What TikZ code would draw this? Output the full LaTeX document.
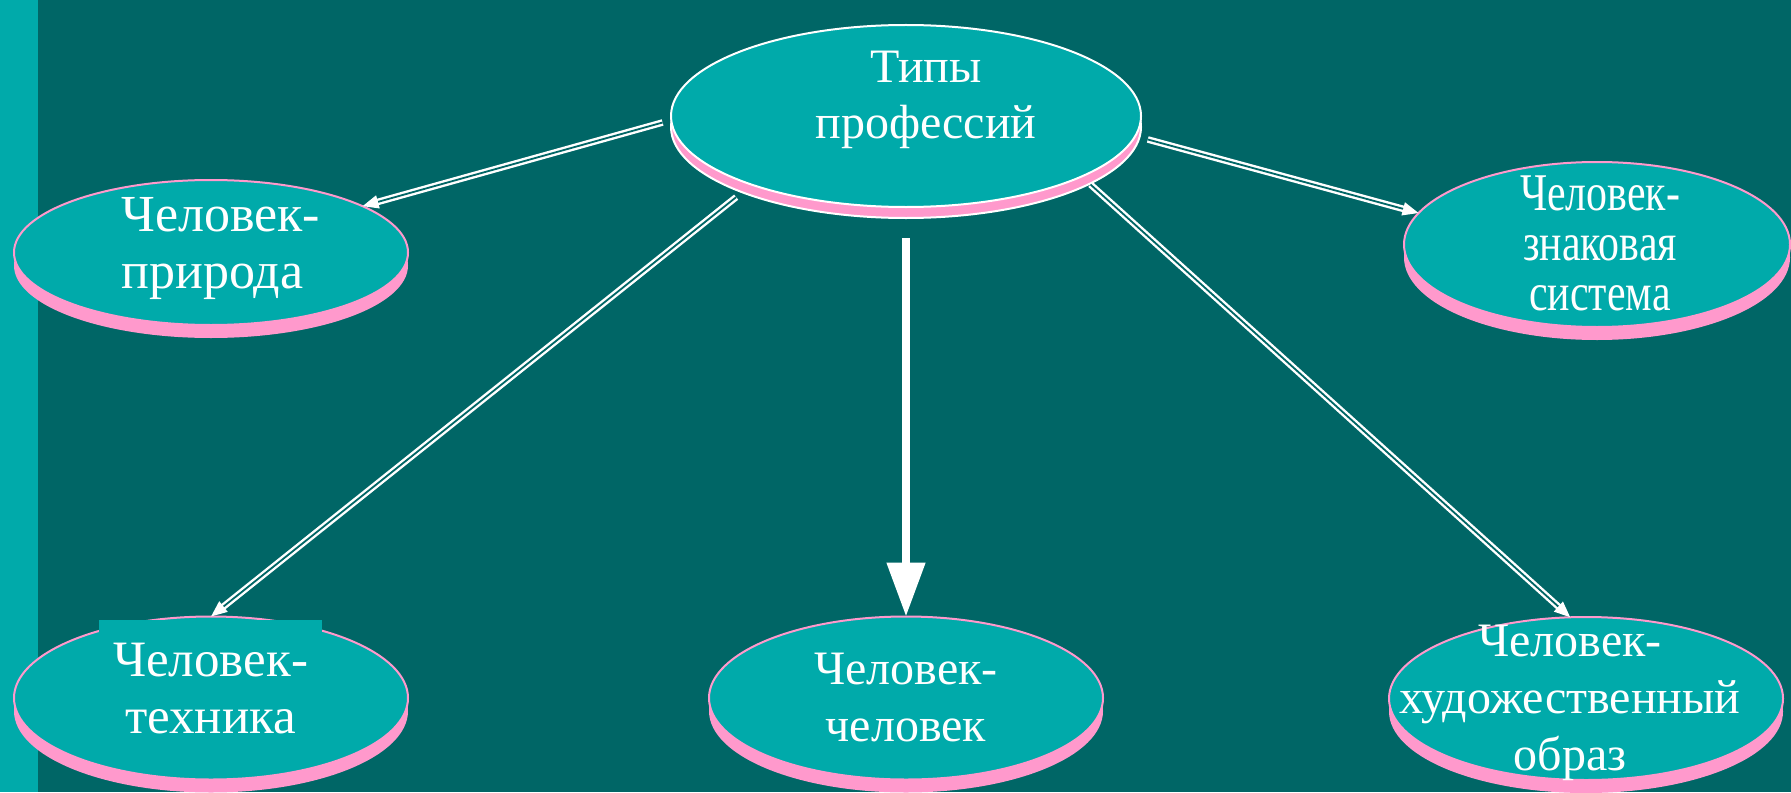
\documentclass[tikz,border=0pt]{standalone}
\usepackage{fontspec}
\setmainfont{Liberation Serif}
\newfontfamily\narrowserif[FakeStretch=0.79]{Liberation Serif}
\usetikzlibrary{shapes.geometric,shadows,arrows.meta}
\definecolor{bgteal}{HTML}{006666}
\definecolor{discfill}{HTML}{00AAAA}
\definecolor{pinkside}{HTML}{FF99CC}
\begin{document}
\begin{tikzpicture}[x=0.5pt,y=-0.5pt,line join=round,
	disc/.style={ellipse,fill=discfill,draw=pinkside,line width=1pt,inner sep=0pt,outer sep=0pt,minimum width=197pt,minimum height=81.5pt},
	pinkside/.style={drop shadow={shadow xshift=0pt,shadow yshift=-6.5pt,fill=pinkside,opacity=1}},
	txt/.style={text=white,align=center,inner sep=0pt,font=\fontsize{24}{28.5}\selectfont},
	bigtxt/.style={txt,font=\fontsize{25.5}{28.5}\selectfont},
	link/.style={draw=white,double=bgteal,double distance=0.9pt,line width=1.2pt,-{Triangle[length=8pt,width=6.5pt]}}]
\useasboundingbox (0,0) rectangle (1791,792);
\fill[bgteal] (0,0) rectangle (1791,792);
\fill[discfill] (0,0) rectangle (38,792);
% ellipses
\node[disc,draw=white,minimum width=235pt,minimum height=91pt,
	drop shadow={shadow xshift=0pt,shadow yshift=-5.5pt,fill=pinkside,draw=white,line width=1pt,opacity=1}] (types) at (906,116) {};
\node[disc,pinkside,minimum height=72.5pt] (nature) at (211,252.5) {};
\node[disc,pinkside,minimum width=193pt,minimum height=82.5pt] (sign) at (1597,244.5) {};
\node[disc,pinkside] (tech) at (211,698) {};
\node[disc,pinkside] (human) at (906,698) {};
\node[disc,pinkside] (art) at (1586,698.5) {};
% texts
\node[txt,font=\fontsize{24}{28}\selectfont] (typestxt) at (926,100) {Типы\\профессий};
\node[bigtxt,font=\fontsize{26}{28.5}\selectfont,align=left,anchor=west] (naturetxt) at (121,249) {Человек-\\природа};
\node[txt,font=\narrowserif\fontsize{26.5}{25}\selectfont] (signtxt) at (1600,243) {Человек-\\знаковая\\система};
\node[bigtxt,fill=discfill,minimum width=111.5pt,minimum height=68.5pt] (techtxt) at (210.5,688.5) {Человек-\\техника};
\node[txt] (humantxt) at (906,697.6) {Человек-\\человек};
\node[txt] (arttxt) at (1570,702.6) {Человек-\\художественный\\образ};
% arrows
\draw[link,shorten <=4.5pt] (types.181) -- (nature.17);
\draw[link,shorten <=6.5pt] (types.-5) -- (sign.170);
\draw[link,shorten <=10pt] (types.204) -- (tech.north);
\draw[link,shorten <=6pt] (types.-19) -- (art.101);
\draw[white,line width=4pt,-{Triangle[length=27pt,width=18.5pt]},shorten <=15.5pt] (types.south) -- (human.north);
\end{tikzpicture}
\end{document}
